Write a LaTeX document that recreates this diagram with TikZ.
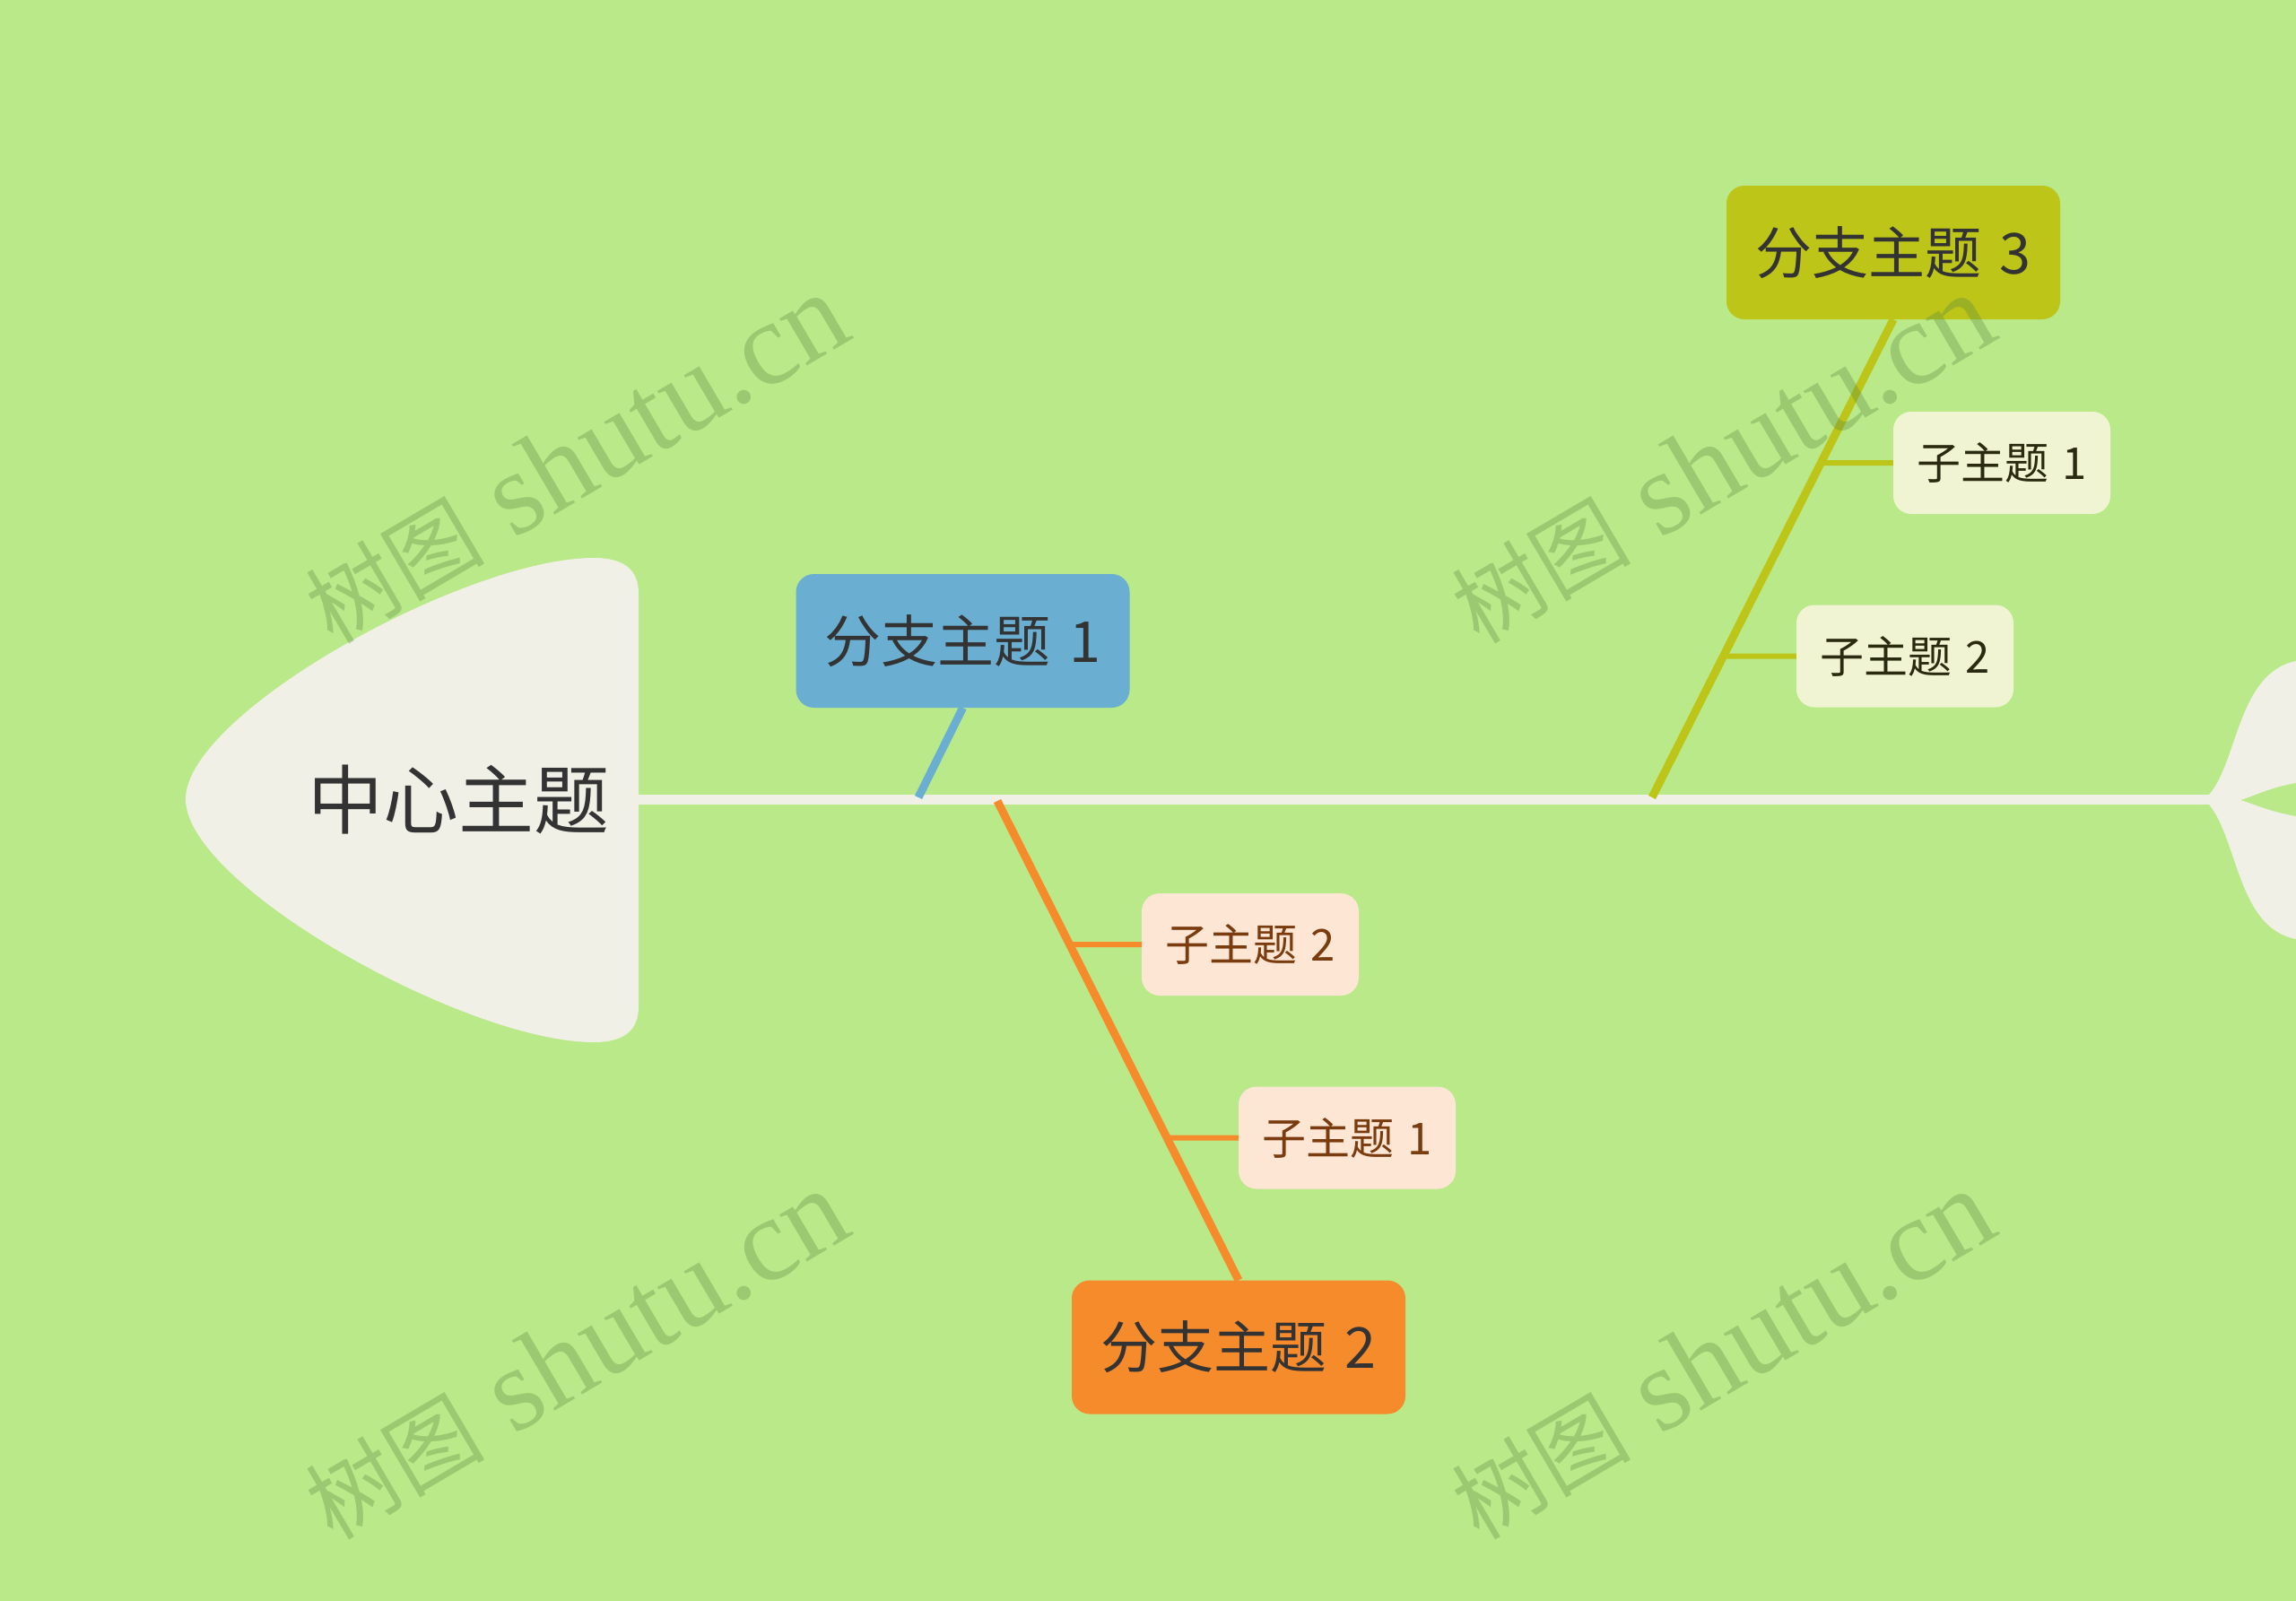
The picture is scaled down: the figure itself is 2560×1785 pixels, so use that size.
\documentclass[tikz,border=0pt]{standalone}
\usepackage{fontspec}
\setmainfont{Noto Sans CJK SC}
\newfontfamily\wmlat{Liberation Serif}
\newfontfamily\wmcjk{Noto Sans CJK SC}
\definecolor{bg}{HTML}{BAE98A}
\definecolor{headc}{HTML}{F0F0E6}
\definecolor{bluec}{HTML}{6AAFD2}
\definecolor{orangec}{HTML}{F68B2C}
\definecolor{olivec}{HTML}{BCC518}
\definecolor{orsub}{HTML}{FDE6D4}
\definecolor{orsubtxt}{HTML}{7A3B0E}
\definecolor{olsub}{HTML}{F1F4D3}
\definecolor{olsubtxt}{HTML}{2A2A10}
\definecolor{maintxt}{HTML}{333333}
\definecolor{wmc}{HTML}{5A8A40}
\newcommand{\wmtext}{{\wmcjk\fontsize{100}{110}\selectfont 树图}{\wmlat\fontsize{132}{150}\selectfont{} shutu.cn}}
\begin{document}
\begin{tikzpicture}[x=1pt,y=-1pt,
  branchbox/.style={rounded corners=20pt, minimum width=372pt, minimum height=149pt, inner sep=0pt, text=maintxt, font=\fontsize{63}{70}\selectfont},
  subbox/.style={rounded corners=20pt, minimum width=242pt, minimum height=114pt, inner sep=0pt, font=\fontsize{49}{56}\selectfont},
  spineline/.style={draw=headc, line width=11pt},
  bline/.style={line width=9pt},
  sline/.style={line width=6pt},
  wmark/.style={rotate=30.5, text=wmc, opacity=0.33, inner sep=0pt}
]
\useasboundingbox (0,0) rectangle (2560,1785);
\fill[bg] (0,0) rectangle (2560,1785);
\begin{scope}
\clip (0,0) rectangle (2560,1785);
% tail
\fill[headc] (2463,886) .. controls (2495,850) and (2495,750) .. (2560,737)
  -- (2560,873) .. controls (2530,878) and (2512,888) .. (2498,892)
  .. controls (2512,896) and (2530,905) .. (2560,910)
  -- (2560,1047) .. controls (2495,1035) and (2495,935) .. (2463,897) -- cycle;
% head
\fill[headc] (662,622) .. controls (520,622) and (207,795) .. (207,891)
  .. controls (207,987) and (520,1162) .. (662,1162)
  .. controls (697,1162) and (712,1148) .. (712,1122)
  -- (712,662) .. controls (712,636) and (697,622) .. (662,622) -- cycle;
\end{scope}
\node[text=maintxt, font=\fontsize{84}{90}\selectfont, inner sep=0pt] (center) at (511,892) {中心主题};
\coordinate (headR) at (712,891);
\coordinate (spineE) at (2466,891);
\draw[spineline] (headR) -- (spineE);
% branch nodes
\node[branchbox, fill=bluec] (b1) at (1073.5,714.5) {分支主题\hspace{0.32em}1};
\node[branchbox, fill=orangec] (b2) at (1381,1502) {分支主题\hspace{0.32em}2};
\node[branchbox, fill=olivec] (b3) at (2111,281.5) {分支主题\hspace{0.32em}3};
% sub nodes
\node[subbox, fill=orsub, text=orsubtxt] (o2) at (1394,1053) {子主题\hspace{0.32em}2};
\node[subbox, fill=orsub, text=orsubtxt] (o1) at (1502,1268.5) {子主题\hspace{0.32em}1};
\node[subbox, fill=olsub, text=olsubtxt] (g1) at (2232,516) {子主题\hspace{0.32em}1};
\node[subbox, fill=olsub, text=olsubtxt] (g2) at (2124,731.5) {子主题\hspace{0.32em}2};
% spine points
\coordinate (s1) at (1024,889);
\coordinate (s2) at (1112,893);
\coordinate (s3) at (1842,889);
% branch lines
\draw[bline, draw=bluec] (b1.south) -- (s1);
\draw[bline, draw=orangec] (s2) -- (b2.north);
\draw[bline, draw=olivec] (b3.south) -- (s3);
% sub lines
\draw[sline, draw=orangec] (o2.west) -- (intersection of s2--b2.north and o2.west--o2.east);
\draw[sline, draw=orangec] (o1.west) -- (intersection of s2--b2.north and o1.west--o1.east);
\draw[sline, draw=olivec] (g1.west) -- (intersection of s3--b3.south and g1.west--g1.east);
\draw[sline, draw=olivec] (g2.west) -- (intersection of s3--b3.south and g2.west--g2.east);
% watermarks
\node[wmark] (w1) at (642,512) {\wmtext};
\node[wmark] (w2) at (1920,512) {\wmtext};
\node[wmark] (w3) at (642,1511) {\wmtext};
\node[wmark] (w4) at (1920,1511) {\wmtext};
\end{tikzpicture}
\end{document}
